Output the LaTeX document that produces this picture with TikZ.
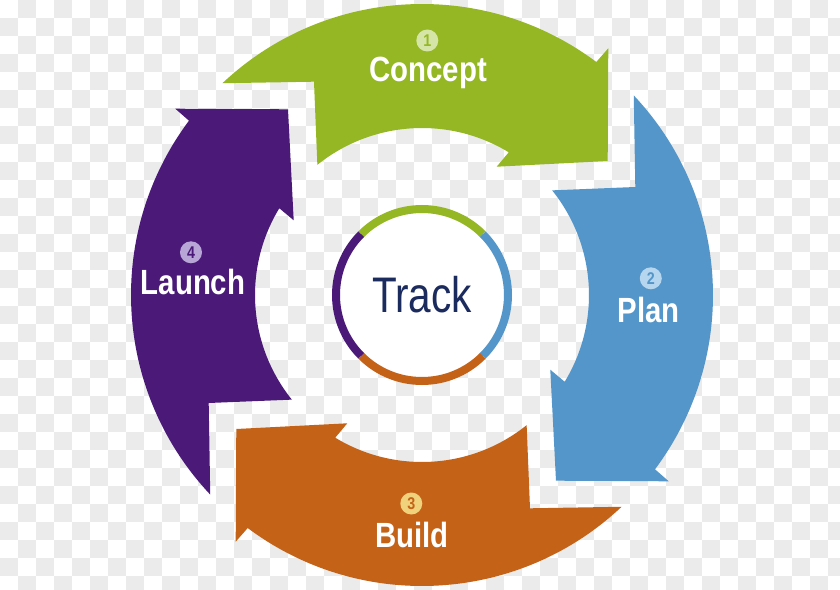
\documentclass[tikz,border=0pt]{standalone}
\usepackage{fontspec}
\setmainfont{Liberation Sans}
\newfontfamily\stagefont{Liberation Sans}[FakeStretch=0.84]
\newfontfamily\trackfont{Liberation Sans}[FakeStretch=0.81]
\usepackage{xcolor}
\definecolor{checkgray}{HTML}{EBEBEB}
\definecolor{conceptgreen}{HTML}{94B723}
\definecolor{planblue}{HTML}{5496C9}
\definecolor{buildorange}{HTML}{C46218}
\definecolor{launchpurple}{HTML}{4B1A78}
\definecolor{conceptlight}{HTML}{D5E5A8}
\definecolor{planlight}{HTML}{B6D5EE}
\definecolor{buildlight}{HTML}{EFD27B}
\definecolor{launchlight}{HTML}{B8A6D6}
\definecolor{tracknavy}{HTML}{1C2B5E}

\begin{document}
\begin{tikzpicture}[x=1pt,y=1pt,
  stage/.style={font=\stagefont\bfseries\fontsize{35}{35}\selectfont, text=white, anchor=base, inner sep=0pt},
  stepnum/.style={circle, inner sep=0pt, minimum size=22pt, font=\stagefont\bfseries\fontsize{17}{17}\selectfont},
  ring/.style={line width=8pt}]
\useasboundingbox (-422,-294) rectangle (418,295);
\clip (-422,-294) rectangle (418,295);
% checkered background
\fill[white] (-422,-294) rectangle (418,295);
\foreach \i in {0,...,46}{
  \foreach \j in {0,...,32}{
    \pgfmathtruncatemacro\k{\i+\j}
    \ifodd\k \fill[checkgray] (-422+18*\i,295-18*\j) rectangle ++(18,-18);\fi
  }
}
% the four curved arrows, one shape turned by quarters
\foreach \rot/\col in {0/conceptgreen, -90/planblue, -180/buildorange, -270/launchpurple}
  \fill[\col, rotate=\rot] (133.3:291) arc[start angle=133.3, end angle=53.2, radius=291]
    -- (186.3,246.7) -- (185.7,134) -- (74.7,128.3)
    -- (58.7:167) arc[start angle=58.7, end angle=128.8, radius=167]
    -- (-108,213.3) -- cycle;
% centre
\node[circle, fill=white, minimum size=164pt, inner sep=0pt, text=tracknavy,
  font=\trackfont\fontsize{50}{50}\selectfont] (track) at (0,0) {\raisebox{1pt}{Track}};
\draw[ring, conceptgreen] (135:86) arc[start angle=135, end angle=45, radius=86];
\draw[ring, planblue] (45:86) arc[start angle=45, end angle=-45, radius=86];
\draw[ring, buildorange] (-45:86) arc[start angle=-45, end angle=-135, radius=86];
\draw[ring, launchpurple] (-135:86) arc[start angle=-135, end angle=-225, radius=86];
% labels
\node[stage] (concept) at (6,213.3) {Concept};
\node[stage] (plan) at (226.5,-27) {Plan};
\node[stage] (build) at (-10,-252.3) {Build};
\node[stage] (launch) at (-229,1) {Launch};
\node[stepnum, fill=conceptlight, text=conceptgreen] (num1) at (5.3,254.5) {1};
\node[stepnum, fill=planlight, text=planblue] (num2) at (228.8,16.7) {2};
\node[stepnum, fill=buildlight, text=buildorange] (num3) at (-10.7,-208.5) {3};
\node[stepnum, fill=launchlight, text=launchpurple] (num4) at (-231,42.7) {4};
\end{tikzpicture}
\end{document}
